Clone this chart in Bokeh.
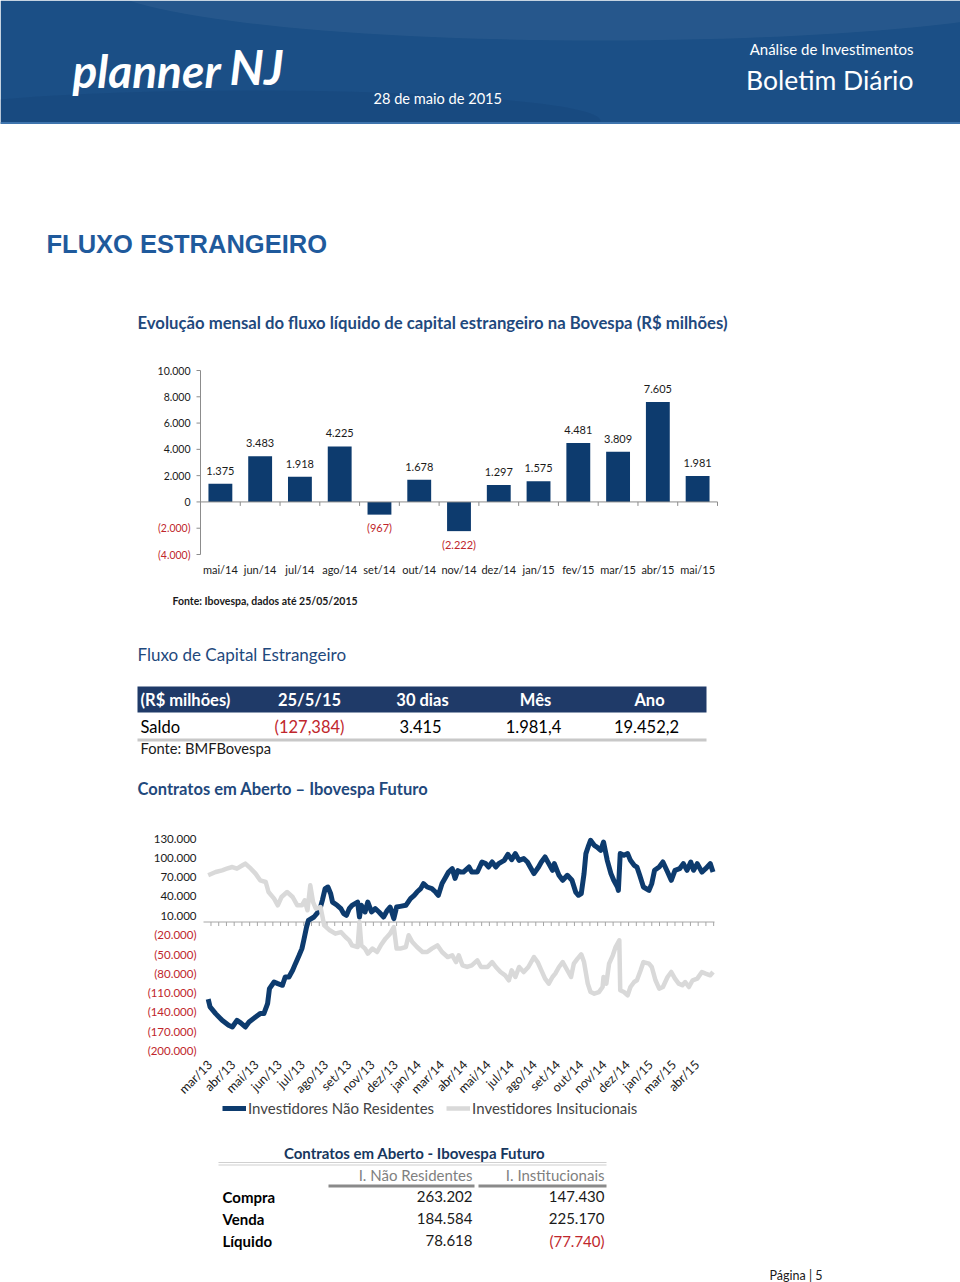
import math
from bokeh.plotting import figure
from bokeh.layouts import column
from bokeh.models import Range1d, Legend, LegendItem, ColumnDataSource
from bokeh.core.properties import value
from bokeh.embed import file_html
from bokeh.resources import INLINE

# ---------------------------------------------------------------- data
BAR_MONTHS = ["mai/14", "jun/14", "jul/14", "ago/14", "set/14", "out/14", "nov/14",
              "dez/14", "jan/15", "fev/15", "mar/15", "abr/15", "mai/15"]
BAR_VALUES = [1375, 3483, 1918, 4225, -967, 1678, -2222, 1297, 1575, 4481, 3809, 7605, 1981]
BAR_Y_TICKS = [-4000, -2000, 0, 2000, 4000, 6000, 8000, 10000]

FLUXO_HEADER = ["(R$ milhões)", "25/5/15", "30 dias", "Mês", "Ano"]
FLUXO_ROW = ["Saldo", "(127,384)", "3.415", "1.981,4", "19.452,2"]

LINE_TICK_DAY = [3, 28, 53, 78, 103, 128, 153, 178, 203, 228, 253,
                 278, 303, 328, 353, 378, 403, 428, 453, 478, 503, 528]
LINE_TICK_LABELS = ["mar/13", "abr/13", "mai/13", "jun/13", "jul/13", "ago/13", "set/13",
                    "nov/13", "dez/13", "jan/14", "mar/14", "abr/14", "mai/14", "jul/14",
                    "ago/14", "set/14", "out/14", "nov/14", "dez/14", "jan/15", "mar/15", "abr/15"]
LINE_Y_TICKS = [-200000, -170000, -140000, -110000, -80000, -50000, -20000,
                10000, 40000, 70000, 100000, 130000]

# Investidores Não Residentes (trading-day index, contracts)
NR_DAY = [
    0, 2, 8, 15, 22, 26, 31, 35, 40, 44,
    51, 56, 60, 64, 66, 71, 75, 80, 83, 87,
    91, 94, 98, 101, 103, 106, 108, 114, 117, 120,
    123, 126, 129, 132, 134, 139, 143, 146, 149, 152,
    155, 161, 163, 165, 169, 172, 176, 180, 184, 189,
    193, 196, 200, 203, 207, 213, 218, 222, 225, 229,
    232, 236, 241, 245, 248, 252, 256, 259, 263, 266,
    269, 272, 275, 281, 284, 290, 295, 299, 302, 306,
    310, 313, 319, 323, 327, 331, 335, 340, 344, 347,
    351, 356, 359, 363, 367, 371, 373, 378, 382, 387,
    392, 396, 399, 402, 405, 407, 410, 412, 416, 419,
    423, 426, 430, 434, 437, 441, 442, 444, 448, 452,
    455, 459, 462, 465, 469, 475, 478, 481, 486, 490,
    495, 499, 503, 508, 512, 516, 520, 523, 527, 532,
    536, 541, 544]
NR_VAL = [
    -120000, -132000, -142600, -153000, -160800, -163400, -153000, -157000, -163400, -155700,
    -147900, -142600, -142600, -127000, -103700, -93400, -95900, -98500, -85600, -85600,
    -75200, -64800, -51800, -41400, -28500, -7800, 2600, 7800, 13000, 18200,
    33800, 52000, 54500, 44000, 31000, 26000, 20900, 13000, 10400, 20900,
    26000, 31100, 7800, 26000, 15600, 31100, 15600, 20900, 15600, 7800,
    18200, 23300, 5300, 23300, 24400, 26000, 36400, 41600, 46700, 52000,
    59800, 54500, 52000, 46700, 41600, 59800, 70000, 77800, 83000, 68000,
    80000, 77800, 77800, 85600, 77800, 77800, 93400, 90900, 85600, 93400,
    85600, 90900, 96000, 105400, 97100, 106500, 96000, 98700, 93400, 85600,
    75300, 85600, 93400, 101200, 90900, 80500, 90900, 72700, 64900, 72700,
    64900, 46700, 41600, 44200, 75300, 106500, 119400, 127200, 119400, 116700,
    111600, 124500, 96000, 75300, 64900, 54500, 49300, 106500, 103800, 106500,
    96000, 88300, 85600, 72700, 54500, 49300, 59800, 80500, 85600, 93400,
    77800, 64900, 80500, 83000, 90900, 80500, 93400, 80500, 90900, 77800,
    83000, 90900, 77800]

# Investidores Institucionais
INST_DAY = [
    0, 8, 15, 20, 26, 31, 37, 40, 46, 51,
    56, 62, 65, 71, 75, 79, 85, 91, 96, 101,
    104, 107, 110, 113, 116, 121, 125, 131, 137, 143,
    148, 152, 155, 161, 163, 165, 169, 172, 177, 182,
    186, 191, 196, 200, 203, 207, 213, 216, 220, 225,
    231, 236, 241, 247, 252, 258, 263, 267, 270, 274,
    279, 284, 290, 294, 301, 306, 310, 315, 320, 324,
    327, 331, 335, 340, 345, 351, 355, 359, 363, 367,
    371, 374, 378, 382, 385, 391, 394, 398, 402, 405,
    409, 412, 416, 421, 425, 426, 429, 432, 436, 439,
    443, 444, 448, 452, 455, 459, 462, 466, 469, 475,
    478, 482, 486, 490, 495, 499, 503, 507, 511, 514,
    518, 522, 527, 532, 536, 541, 544]
INST_VAL = [
    72700, 77800, 80500, 83000, 85600, 83000, 88300, 90900, 83000, 75300,
    64900, 62300, 46700, 36400, 26000, 38900, 46700, 38900, 26000, 26000,
    33800, 18200, 57100, 31100, 20900, 23300, -5000, -12900, -18100, -15600,
    -23300, -28500, -36300, -38900, 0, -36300, -41400, -49200, -41400, -46700,
    -36300, -25900, -18100, -7800, -41400, -41400, -38900, -20700, -31100, -38900,
    -46700, -46700, -41400, -36300, -46700, -54500, -51800, -62300, -51800, -67400,
    -70000, -67400, -59600, -70000, -70000, -62300, -70000, -77800, -83000, -90700,
    -75200, -85600, -70000, -77800, -70000, -54500, -62300, -75200, -88100, -95900,
    -85600, -80300, -70000, -62300, -70000, -85600, -64800, -57000, -50300, -62300,
    -95900, -109000, -111500, -109000, -101200, -85600, -95900, -64800, -51800, -38900,
    -28500, -106300, -109000, -114100, -101200, -93400, -90700, -75200, -62300, -64800,
    -70000, -90700, -103700, -101200, -85600, -77800, -88100, -95900, -98500, -93400,
    -101200, -90700, -88100, -77800, -80300, -83000, -77800]

SERIES_NAMES = ["Investidores Não Residentes", "Investidores Insitucionais"]

CONTR_COLS = ["I. Não Residentes", "I. Institucionais"]
CONTR_ROWS = ["Compra", "Venda", "Líquido"]
CONTR_NR = [263202, 184584, 78618]
CONTR_INST = [147430, 225170, -77740]

# ---------------------------------------------------------------- style
W = 960
NAVY = "#0D3B6E"
HEAD = "#1B4F86"
TITLE_BLUE = "#1F497D"
RED = "#C0262C"
INK = "#1a1a1a"
GRAY_LINE = "#D9D9D9"
AXIS_GRAY = "#8C8C8C"
FONT = "Lato"
COMMON = dict(output_backend="svg", toolbar_location=None, frame_align=False)


def br(v):
    s = f"{abs(v):,.0f}".replace(",", ".")
    return f"({s})" if v < 0 else s


def canvas(h, x_range, y_range):
    p = figure(width=W, height=h, x_range=x_range, y_range=y_range,
               x_axis_type=None, y_axis_type=None, min_border=0, **COMMON)
    p.outline_line_color = None
    p.background_fill_color = "white"
    p.grid.visible = False
    return p


def section(top, bottom):
    return canvas(bottom - top, Range1d(0, W), Range1d(bottom, top))


def put(p, x, y, s, size, color="#000000", style="normal", align="left", font=FONT):
    p.text(x=[x], y=[y], text=[s], text_font=value(font), text_font_size=f"{size}px",
           text_color=color, text_font_style=style, text_align=align, text_baseline="middle")


def tick_labels(p, x, ticks, x_offset, size):
    src = ColumnDataSource(dict(x=[x] * len(ticks), y=ticks, t=[br(t) for t in ticks],
                                c=[RED if t < 0 else INK for t in ticks]))
    p.text(x="x", y="y", text="t", text_color="c", source=src, x_offset=x_offset,
           text_font=value(FONT), text_font_size=size, text_align="right", text_baseline="middle")


# ---------------------------------------------------------------- header
hd = section(0, 124)
hd.quad(left=[0], right=[W], top=[0], bottom=[124], fill_color=HEAD, line_color=None)
hd.ellipse(x=[600], y=[-20], width=1000, height=120, fill_color="white", fill_alpha=0.05, line_color=None)
hd.ellipse(x=[250], y=[120], width=700, height=60, fill_color="#0B2F5C", fill_alpha=0.15, line_color=None)
hd.segment(x0=[0], y0=[122.5], x1=[W], y1=[122.5], line_color="#3E74AD", line_width=2)
put(hd, 72, 70, "planner", 46, "white", "bold italic")
put(hd, 229, 66, "NJ", 48, "white", "bold italic")
put(hd, 913, 48, "Análise de Investimentos", 15, "white", align="right")
put(hd, 913, 79, "Boletim Diário", 26.5, "white", align="right")
put(hd, 373, 98, "28 de maio de 2015", 14.6, "white")

# ---------------------------------------------------------------- titles
tb = section(124, 355)
put(tb, 46, 243, "FLUXO ESTRANGEIRO", 25.5, "#1F5A9C", "bold", font="Liberation Sans")
put(tb, 137, 322, "Evolução mensal do fluxo líquido de capital estrangeiro na Bovespa (R$ milhões)",
    16.7, TITLE_BLUE, "bold")

# ---------------------------------------------------------------- bar chart
# plot area: month slots 0..13 over page x 200..717; values -4000..10000 over page y 554..370
n = len(BAR_MONTHS)
bsx = 517.0 / n                  # px per month slot
bsy = 14000.0 / 184.0            # value units per px
pb = canvas(230, Range1d(-200 / bsx, (W - 200) / bsx),
            Range1d(BAR_Y_TICKS[0] - 31 * bsy, BAR_Y_TICKS[-1] + 15 * bsy))
bx = [i + 0.5 for i in range(n)]
pb.vbar(x=bx, top=BAR_VALUES, width=0.6, fill_color=NAVY, line_color=None)
bar_src = ColumnDataSource(dict(
    x=bx, y=BAR_VALUES, t=[br(v) for v in BAR_VALUES],
    c=[RED if v < 0 else INK for v in BAR_VALUES],
    off=[13 if v < 0 else -13 for v in BAR_VALUES]))
pb.text(x="x", y="y", text="t", text_color="c", y_offset="off", source=bar_src,
        text_font=value(FONT), text_font_size="11px", text_align="center", text_baseline="middle")
# category axis (line at zero with boundary ticks, labels at bottom)
pb.segment(x0=[0], y0=[0], x1=[n], y1=[0], line_color=AXIS_GRAY, line_width=1)
pb.segment(x0=list(range(n + 1)), x1=list(range(n + 1)), y0=[0] * (n + 1), y1=[-4 * bsy] * (n + 1),
           line_color=AXIS_GRAY, line_width=1)
pb.text(x=bx, y=[BAR_Y_TICKS[0]] * n, text=BAR_MONTHS, y_offset=15, text_color=INK,
        text_font=value(FONT), text_font_size="11px", text_align="center", text_baseline="middle")
# value axis
pb.segment(x0=[0], y0=[BAR_Y_TICKS[0]], x1=[0], y1=[BAR_Y_TICKS[-1]], line_color=AXIS_GRAY, line_width=1)
pb.segment(x0=[0] * len(BAR_Y_TICKS), x1=[-4 / bsx] * len(BAR_Y_TICKS), y0=BAR_Y_TICKS, y1=BAR_Y_TICKS,
           line_color=AXIS_GRAY, line_width=1)
tick_labels(pb, 0, BAR_Y_TICKS, -10, "10.5px")

# ---------------------------------------------------------------- middle texts / table
md = section(585, 815)
put(md, 172, 600, "Fonte: Ibovespa, dados até 25/05/2015", 10.5, INK, "bold")
put(md, 137, 654, "Fluxo de Capital Estrangeiro", 17, TITLE_BLUE)
md.quad(left=[137], right=[706], top=[686], bottom=[712], fill_color="#1F3A68", line_color=None)
col_x = [140, 309, 422, 535, 649]
col_align = ["left", "center", "center", "center", "center"]
for x, s, a in zip(col_x, FLUXO_HEADER, col_align):
    put(md, x, 699, s, 16.5, "white", "bold", align=a)
row_x = [140, 309, 420, 533, 646]
for x, s, a in zip(row_x, FLUXO_ROW, col_align):
    put(md, x, 726, s, 16.5, RED if s.startswith("(") else "#000000", align=a)
md.segment(x0=[137], y0=[739.5], x1=[706], y1=[739.5], line_color="#C8C8C8", line_width=3)
put(md, 140, 747, "Fonte: BMFBovespa", 14.7, INK)
put(md, 137, 788, "Contratos em Aberto – Ibovespa Futuro", 16.5, TITLE_BLUE, "bold")

# ---------------------------------------------------------------- line chart
# day 0 at page x 207.7 (0.928 px/day); values -200000..130000 over page y 1050..838
lsx = 0.928                       # px per day
lsy = 330000.0 / 212.0            # value units per px
pl = canvas(310, Range1d(-207.7 / lsx, (W - 207.7) / lsx),
            Range1d(LINE_Y_TICKS[0] - 75 * lsy, LINE_Y_TICKS[-1] + 23 * lsy))
x_lo, x_hi = -4.7 / lsx, (714 - 207.7) / lsx
pl.segment(x0=[x_lo], y0=[0], x1=[x_hi], y1=[0], line_color="#A6A6A6", line_width=1)
zt = [LINE_TICK_DAY[0] + k * 25 / 3 for k in range(0, 66)]
pl.segment(x0=zt, x1=zt, y0=[0] * len(zt), y1=[-4 * lsy] * len(zt), line_color="#A6A6A6", line_width=1)
r_nr = pl.line(NR_DAY, NR_VAL, line_color=NAVY, line_width=5, line_join="round")
r_in = pl.line(INST_DAY, INST_VAL, line_color=GRAY_LINE, line_width=4.5, line_join="round")
tick_labels(pl, x_lo, LINE_Y_TICKS, -7, "11.5px")
pl.text(x=LINE_TICK_DAY, y=[LINE_Y_TICKS[0]] * len(LINE_TICK_DAY), text=LINE_TICK_LABELS,
        angle=math.pi / 4, x_offset=-1, y_offset=12, text_color=INK,
        text_font=value(FONT), text_font_size="12.5px", text_align="right", text_baseline="middle")
leg = Legend(items=[LegendItem(label=SERIES_NAMES[0], renderers=[r_nr]),
                    LegendItem(label=SERIES_NAMES[1], renderers=[r_in])],
             location=(222, 7), orientation="horizontal",
             glyph_width=24, glyph_height=20, label_height=20, label_standoff=2, spacing=12,
             padding=0, margin=0, border_line_color=None, background_fill_alpha=0,
             label_text_font=FONT, label_text_font_size="15px")
pl.add_layout(leg)

# ---------------------------------------------------------------- bottom table
bt = section(1125, 1282)
put(bt, 414, 1152, "Contratos em Aberto - Ibovespa Futuro", 15, "#17375E", "bold", align="center")
bt.segment(x0=[218, 218], y0=[1162, 1164.5], x1=[606, 606], y1=[1162, 1164.5], line_color="#D0D0D0", line_width=1.2)
put(bt, 472, 1174, CONTR_COLS[0], 15, "#7F7F7F", align="right")
put(bt, 604, 1174, CONTR_COLS[1], 15, "#7F7F7F", align="right")
bt.segment(x0=[328, 478], y0=[1185.5, 1185.5], x1=[474, 606], y1=[1185.5, 1185.5], line_color="#8A8A8A", line_width=3)
for i, (lab, a, b) in enumerate(zip(CONTR_ROWS, CONTR_NR, CONTR_INST)):
    y = 1196 + 22 * i
    put(bt, 222, y, lab, 15, "#000000", "bold")
    put(bt, 472, y, br(a), 15, RED if a < 0 else INK, align="right")
    put(bt, 604, y, br(b), 15, RED if b < 0 else INK, align="right")
put(bt, 769, 1275, "Página | 5", 12.5, INK)

page = column(hd, tb, pb, md, pl, bt, spacing=0)
open("out.html", "w").write(file_html(page, INLINE))
